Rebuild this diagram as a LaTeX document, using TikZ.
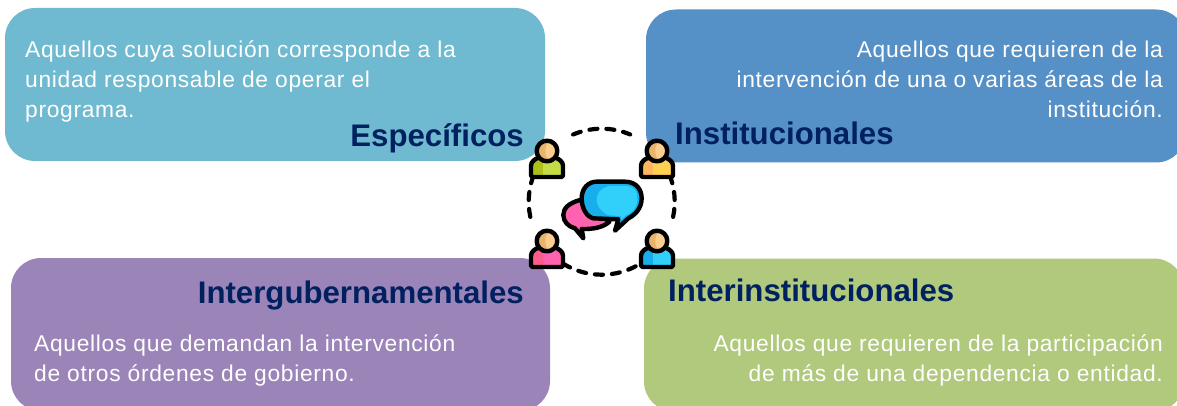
\documentclass[tikz,border=0pt]{standalone}
\usepackage{fontspec}
\setmainfont{Liberation Sans}
\usepackage{xcolor}
\usetikzlibrary{positioning}
\definecolor{espColor}{HTML}{6FBAD0}
\definecolor{insColor}{HTML}{5590C6}
\definecolor{gubColor}{HTML}{9B84B8}
\definecolor{depColor}{HTML}{B0C97C}
\definecolor{titleColor}{HTML}{002060}
\definecolor{headDark}{HTML}{E8B46C}
\definecolor{headLight}{HTML}{F9CE8E}
\definecolor{azulDark}{HTML}{18AEEC}
\definecolor{azulLight}{HTML}{30D0FB}
\definecolor{verdeDark}{HTML}{AEBF1A}
\definecolor{verdeLight}{HTML}{C5DA45}
\definecolor{naranjaDark}{HTML}{FFB55C}
\definecolor{naranjaLight}{HTML}{FFD152}
\definecolor{rosaDark}{HTML}{FF5C8D}
\definecolor{rosaLight}{HTML}{FF62AE}
\tikzset{
    panel/.style={rounded corners=30pt, minimum width=#1, minimum height=153pt, inner sep=0pt},
    title/.style={font=\fontsize{31.2}{36}\selectfont\bfseries, text=titleColor, inner sep=0pt},
    body/.style={font=\fontsize{22.8}{30}\selectfont\addfontfeature{LetterSpace=3}, text=white, inner sep=0pt},
    outline/.style={line width=4.4pt, black, line join=round}
}
\newcommand{\bodyPath}{(-48,78) -- (-48,50) .. controls (-48,32) and (-36,24) .. (-20,18) -- (20,18) .. controls (36,24) and (48,32) .. (48,50) -- (48,78) -- cycle}
\newcommand{\persona}[4]{%
    \begin{scope}[shift={(#1,#2)}, scale=1/3]
        \fill[#4] \bodyPath;
        \begin{scope}
            \clip \bodyPath;
            \fill[#3] (-50,0) rectangle (-12,80);
        \end{scope}
        \draw[outline, rounded corners=2pt] \bodyPath;
        \fill[headDark] (0,0) circle (31);
        \fill[headLight] (12,0) ellipse (17 and 28);
        \draw[outline] (0,0) circle (31);
    \end{scope}}
\begin{document}
\begin{tikzpicture}[x=1pt, y=-1pt]
    \useasboundingbox (0,0) rectangle (1177,406);
    \clip (0,0) rectangle (1177,406);

    % Panels
    \node[panel=540pt, fill=espColor] (espBox) at (275,84.5) {};
    \node[panel=540pt, fill=insColor] (insBox) at (916,86) {};
    \node[panel=539pt, fill=gubColor] (gubBox) at (280.5,334.5) {};
    \node[panel=540pt, fill=depColor] (depBox) at (914,335) {};

    % Texts
    \node[body, anchor=north west, align=left] (espText) at (25,41)
        {Aquellos cuya solución corresponde a la\\unidad responsable de operar el\\programa.};
    \node[body, anchor=north east, align=right] (insText) at (1163,41)
        {Aquellos que requieren de la\\intervención de una o varias áreas de la\\institución.};
    \node[body, anchor=north west, align=left] (gubText) at (34,335)
        {Aquellos que demandan la intervención\\de otros órdenes de gobierno.};
    \node[body, anchor=north east, align=right] (depText) at (1163,335)
        {Aquellos que requieren de la participación\\de más de una dependencia o entidad.};

    % Titles
    \node[title, anchor=base east] (espTitle) at (524,147) {Específicos};
    \node[title, anchor=base west] (insTitle) at (675,145) {Institucionales};
    \node[title, anchor=base east] (gubTitle) at (524,303) {Intergubernamentales};
    \node[title, anchor=base west] (depTitle) at (668,301) {Interinstitucionales};

    % Dashed ring
    \begin{scope}[line width=4.2pt, dash pattern=on 8pt off 9pt, line cap=round]
        \draw (601.7,201.7) ++(122:73pt and -73pt) arc[start angle=122, end angle=58, x radius=73pt, y radius=-73pt];
        \draw (601.7,201.7) ++(168:73pt and -73pt) arc[start angle=168, end angle=203, x radius=73pt, y radius=-73pt];
        \draw (601.7,201.7) ++(247:73pt and -73pt) arc[start angle=247, end angle=293, x radius=73pt, y radius=-73pt];
        \draw (601.7,201.7) ++(12:73pt and -73pt) arc[start angle=12, end angle=-23, x radius=73pt, y radius=-73pt];
    \end{scope}

    % People
    \persona{547}{151}{verdeDark}{verdeLight}
    \persona{657}{151}{naranjaDark}{naranjaLight}
    \persona{547}{241}{rosaDark}{rosaLight}
    \persona{657}{241}{azulDark}{azulLight}

    % Speech bubbles
    \begin{scope}[shift={(500,110)}, scale=1/3]
        \filldraw[outline, fill=rosaLight] (240,270) .. controls (205,280) and (190,295) .. (190,315)
            .. controls (190,335) and (205,350) .. (225,355) -- (250,385) -- (245,357)
            .. controls (280,358) and (310,352) .. (328,335) -- cycle;
        \fill[azulDark] (290,215) -- (375,215) .. controls (410,215) and (425,240) .. (425,265)
            .. controls (425,295) and (405,315) .. (385,325) -- (345,362) -- (355,328) -- (280,325)
            .. controls (260,320) and (245,295) .. (245,265) .. controls (245,235) and (265,215) .. (290,215) -- cycle;
        \fill[azulLight] (335,228) -- (375,228) .. controls (405,228) and (412,245) .. (412,265)
            .. controls (412,295) and (395,308) .. (378,316) -- (360,332) -- (363,318) -- (325,316)
            .. controls (305,305) and (290,290) .. (290,270) .. controls (290,245) and (310,228) .. (335,228) -- cycle;
        \draw[outline] (290,215) -- (375,215) .. controls (410,215) and (425,240) .. (425,265)
            .. controls (425,295) and (405,315) .. (385,325) -- (345,362) -- (355,328) -- (280,325)
            .. controls (260,320) and (245,295) .. (245,265) .. controls (245,235) and (265,215) .. (290,215) -- cycle;
    \end{scope}
\end{tikzpicture}
\end{document}
